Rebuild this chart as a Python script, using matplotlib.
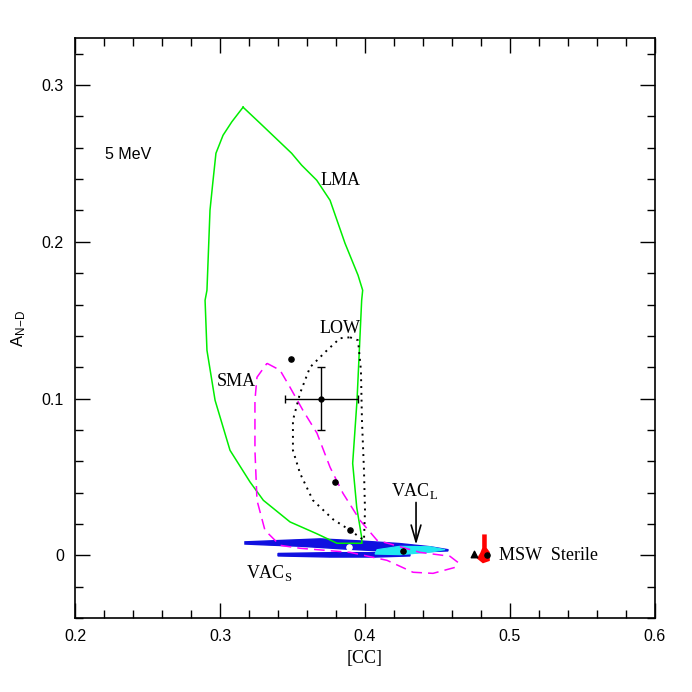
import numpy as np
import matplotlib.pyplot as plt
from matplotlib.ticker import MultipleLocator

plt.rcParams['mathtext.fontset'] = 'custom'
plt.rcParams['mathtext.rm'] = 'Liberation Serif'
plt.rcParams['mathtext.sf'] = 'Liberation Sans'
plt.rcParams['font.family'] = 'Liberation Sans'

# LMA contour (green)
lma_x = [0.3159, 0.3276, 0.3494, 0.3563, 0.3667, 0.3759, 0.3862, 0.3952, 0.3984,
         0.3977, 0.3945, 0.3915, 0.3943, 0.3977, 0.3979,
         0.3807, 0.3667, 0.3483, 0.3299, 0.3207, 0.3069, 0.2966, 0.2910, 0.2897,
         0.2910, 0.2931, 0.2950, 0.2972, 0.3021, 0.3081, 0.3159]
lma_y = [0.2859, 0.2757, 0.2565, 0.2489, 0.2393, 0.2265, 0.1991, 0.1787, 0.1691,
         0.1627, 0.0989, 0.0587, 0.0306, 0.0115, 0.0077,
         0.0077, 0.0138, 0.0213, 0.0351, 0.0468, 0.0670, 0.0989, 0.1308, 0.1627,
         0.1691, 0.2202, 0.2374, 0.2565, 0.2680, 0.2765, 0.2859]

# SMA contour (magenta dashed)
sma_x = [0.3324, 0.3414, 0.3483, 0.3572, 0.3669, 0.3759, 0.3848, 0.3966, 0.4083,
         0.4379, 0.4586, 0.4641, 0.4621, 0.4469, 0.4331, 0.4152, 0.3897, 0.3552,
         0.3414, 0.3310, 0.3255, 0.3241, 0.3241, 0.3255, 0.3324]
sma_y = [0.1225, 0.1181, 0.1072, 0.0925, 0.0779, 0.0562, 0.0396, 0.0223, 0.0096,
         0.0019, -0.0006, -0.0045, -0.0077, -0.0115, -0.0108, -0.0032, 0.0019, 0.0045,
         0.0064, 0.0160, 0.0351, 0.0670, 0.0989, 0.1136, 0.1225]

# LOW contour (black dotted)
low_x = [0.3897, 0.3952, 0.3972, 0.3979, 0.3993, 0.4000, 0.3993, 0.3897, 0.3779,
         0.3641, 0.3552, 0.3503, 0.3503, 0.3552, 0.3621, 0.3738, 0.3828, 0.3897]
low_y = [0.1391, 0.1372, 0.1181, 0.0862, 0.0542, 0.0287, 0.0096, 0.0160, 0.0230,
         0.0351, 0.0523, 0.0670, 0.0862, 0.1034, 0.1200, 0.1308, 0.1385, 0.1391]

# VAC bands
vac_up_x = [0.3172, 0.3448, 0.3690, 0.3966, 0.4241, 0.4448, 0.4572,
            0.4572, 0.4379, 0.4103, 0.3862, 0.3552, 0.3345, 0.3172]
vac_up_y = [0.0086, 0.0096, 0.0105, 0.0092, 0.0075, 0.0055, 0.0036,
            0.0028, 0.0022, 0.0028, 0.0040, 0.0058, 0.0065, 0.0072]
vac_lo_x = [0.3400, 0.3759, 0.4069, 0.4310, 0.4310, 0.4069, 0.3759, 0.3400]
vac_lo_y = [0.0012, 0.0017, 0.0017, 0.0011, -0.0004, -0.0011, -0.0011, -0.0004]
vac_cy_x = [0.4083, 0.4241, 0.4448, 0.4552, 0.4448, 0.4241, 0.4069]
vac_cy_y = [0.0036, 0.0058, 0.0055, 0.0036, 0.0020, 0.0004, 0.0008]

# MSW sterile (red)
ster_x = [0.4821, 0.4834, 0.4834, 0.4855, 0.4855, 0.4814, 0.4779, 0.4800, 0.4814, 0.4814]
ster_y = [0.0128, 0.0128, 0.0045, 0.0019, -0.0032, -0.0045, -0.0019, 0.0013, 0.0045, 0.0128]

# points
pts_x = [0.349, 0.379, 0.390, 0.426, 0.484]
pts_y = [0.125, 0.047, 0.016, 0.0026, 0.0]
white_x, white_y = 0.389, 0.005
tri_x, tri_y = 0.475, 0.0006
data_x, data_y = 0.370, 0.100
data_xerr, data_yerr = 0.025, 0.020

fig = plt.figure(figsize=(6.92, 6.92), dpi=100)
ax = fig.add_axes([0.1084, 0.1069, 0.8381, 0.8381])

ax.fill(vac_up_x, vac_up_y, color='#1010e0', lw=1.0, ec='#1010e0', zorder=2)
ax.fill(vac_lo_x, vac_lo_y, color='#1010e0', lw=1.0, ec='#1010e0', zorder=2)
ax.fill(vac_cy_x, vac_cy_y, color='#20e8f0', lw=0.8, ec='#20e8f0', zorder=3)
ax.fill(ster_x, ster_y, color='red', lw=1.2, ec='red', zorder=2)

ax.plot(lma_x, lma_y, color='#00ee00', lw=1.1, zorder=4)
ax.plot(sma_x, sma_y, color='#ff00ff', lw=1.1, dashes=(7, 4), zorder=4)
ax.plot(low_x, low_y, color='black', lw=1.4, dashes=(1, 2.5), zorder=4)

ax.scatter(pts_x, pts_y, s=14, color='black', zorder=6)
ax.scatter([white_x], [white_y], s=14, color='white', zorder=6)
ax.scatter([tri_x], [tri_y], s=22, marker='^', color='black', zorder=6)
ax.errorbar([data_x], [data_y], xerr=[data_xerr], yerr=[data_yerr], fmt='o',
            color='black', ms=3.5, lw=1.0, capsize=3, zorder=6)

ax.annotate('', xy=(0.4352, 0.0050), xytext=(0.4352, 0.0355),
            arrowprops=dict(arrowstyle='->,head_length=1.2,head_width=0.35',
                            color='black', lw=1.2), zorder=7)

serif = dict(family='Liberation Serif', fontsize=13)
ax.text(0.383, 0.239, 'LMA', ha='center', va='center', **serif)
ax.text(0.383, 0.145, 'LOW', ha='center', va='center', **serif)
ax.text(0.311, 0.111, 'SMA', ha='center', va='center', **serif)
ax.text(0.434, 0.041, r'VAC$_{\mathrm{L}}$', ha='center', va='center', **serif)
ax.text(0.334, -0.011, r'VAC$_{\mathrm{S}}$', ha='center', va='center', **serif)
ax.text(0.4924, 0.0, 'MSW  Sterile', ha='left', va='center', **serif)
ax.text(0.2207, 0.256, '5 MeV', ha='left', va='center', fontsize=11.5)

ax.set_xlim(0.2, 0.6)
ax.set_ylim(-0.04, 0.33)
ax.xaxis.set_minor_locator(MultipleLocator(0.02))
ax.yaxis.set_minor_locator(MultipleLocator(0.02))
ax.set_xticks([0.2, 0.3, 0.4, 0.5, 0.6])
ax.set_xticklabels(['0.2', '0.3', '0.4', '0.5', '0.6'])
ax.set_yticks([0.0, 0.1, 0.2, 0.3])
ax.set_yticklabels(['0', '0.1', '0.2', '0.3'])
ax.tick_params(which='both', direction='in', top=True, right=True, width=1.0,
               labelsize=11.5)
ax.tick_params(which='major', length=11, pad=8)
ax.tick_params(which='minor', length=6)
for s in ax.spines.values():
    s.set_linewidth(1.2)

ax.set_xlabel('[CC]', family='Liberation Serif', fontsize=13, labelpad=4)
ax.set_ylabel(r'$\mathsf{A_{N\!-\!D}}$', fontsize=12, va='center')
ax.yaxis.set_label_coords(-0.097, 0.5)

fig.savefig('out.png', dpi=100)
